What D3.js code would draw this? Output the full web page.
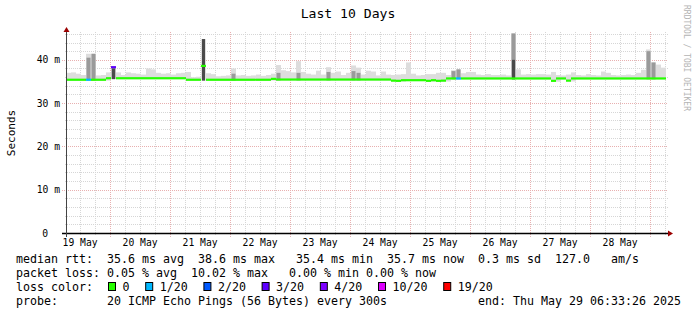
<!DOCTYPE html>
<html>
<head>
<meta charset="utf-8">
<script src="https://cdn.jsdelivr.net/npm/d3@7"></script>
<style>
  html, body { margin: 0; padding: 0; background: #fff; }
  svg { display: block; }
  text { font-family: "DejaVu Sans Mono", monospace; fill: #000; }
</style>
</head>
<body>
<svg id="chart"></svg>
<script>
// smokeping graph, 10 days, one bin = 2 hours (120 bins)
const startTime = new Date(Date.UTC(2025, 4, 19, 6, 33, 26));
const endTime = new Date(Date.UTC(2025, 4, 29, 6, 33, 26));
const binHours = 2;

// median rtt per bin (ms)
const median = [
  35.4, 35.4, 35.4, 35.4, 35.4, 35.4, 35.4, 35.4, 35.75, 38.3,
  35.75, 35.75, 35.75, 35.75, 35.75, 35.75, 35.75, 35.75, 35.75, 35.75,
  35.75, 35.75, 35.75, 35.75, 35.4, 35.4, 35.4, 38.6, 35.4, 35.4,
  35.4, 35.4, 35.4, 35.4, 35.4, 35.4, 35.4, 35.4, 35.4, 35.4,
  35.4, 35.6, 35.45, 35.45, 35.45, 35.45, 35.45, 35.45, 35.45, 35.45,
  35.45, 35.45, 35.45, 35.45, 35.45, 35.45, 35.45, 35.45, 35.45, 35.45,
  35.45, 35.45, 35.45, 35.45, 35.45, 35.2, 35.15, 35.3, 35.3, 35.3,
  35.3, 35.3, 35.15, 35.3, 35.15, 35.2, 35.7, 35.7, 35.7, 35.7,
  35.7, 35.7, 35.7, 35.7, 35.7, 35.7, 35.7, 35.7, 35.7, 35.7,
  35.7, 35.7, 35.7, 35.7, 35.7, 35.7, 35.7, 35.15, 35.7, 35.7,
  35.2, 35.7, 35.7, 35.7, 35.7, 35.7, 35.7, 35.7, 35.7, 35.7,
  35.7, 35.7, 35.7, 35.7, 35.7, 35.7, 35.7, 35.7, 35.7, 35.7
];

// highest ping per bin (ms), the light smoke
const smokeHi = [
  37.0, 37.1, 36.8, 36.5, 41.4, 41.4, 36.4, 36.5, 37.1, 38.4,
  37.1, 36.5, 37.1, 36.9, 36.8, 36.6, 38.0, 37.8, 37.0, 36.8,
  36.9, 36.6, 36.9, 37.0, 37.2, 36.0, 36.1, 44.8, 36.9, 36.7,
  36.2, 36.3, 36.4, 38.0, 36.4, 36.5, 36.3, 36.4, 36.6, 36.3,
  36.5, 36.8, 38.8, 37.6, 37.4, 37.1, 39.7, 37.2, 36.8, 36.6,
  37.5, 36.6, 38.3, 37.0, 37.3, 36.5, 37.0, 38.7, 38.2, 36.6,
  37.5, 37.3, 36.4, 37.3, 36.6, 36.5, 36.6, 36.7, 39.4, 36.8,
  36.4, 36.5, 36.7, 36.7, 37.0, 37.0, 36.5, 37.6, 37.8, 36.9,
  37.2, 37.2, 36.6, 36.5, 36.7, 36.5, 36.5, 36.6, 36.4, 46.1,
  37.8, 36.6, 36.7, 36.6, 36.7, 36.7, 36.6, 37.2, 36.5, 36.4,
  36.6, 37.1, 36.5, 36.4, 36.7, 36.5, 36.4, 37.3, 37.0, 36.5,
  36.4, 36.5, 36.6, 36.5, 37.0, 37.7, 42.4, 39.4, 38.9, 38.2
];

// denser smoke (mid gray), only where visible
const midBins = [4, 5, 9, 33, 42, 46, 52, 57, 58, 77, 78, 89, 116, 117];
const midTop = [40.5, 41.4, 38.4, 36.8, 37.0, 37.0, 37.2, 37.4, 37.0, 37.4, 37.8, 46.1, 42.0, 39.4];

// darkest smoke (spikes)
const darkBins = [9, 27, 89];
const darkTop = [38.0, 44.8, 40.0];

// packet loss (out of 20) where not zero
const lossBins = [4, 9, 78];
const lossCount = [1, 3, 1];

const lossLevels = [0, 1, 2, 3, 4, 10, 19];
const lossLabels = ["0", "1/20", "2/20", "3/20", "4/20", "10/20", "19/20"];
const lossColors = ["#26ff00", "#00b8ff", "#0059ff", "#5e00ff", "#7e00ff", "#dd00ff", "#ff0000"];

const yTicks = [0, 10, 20, 30, 40];
const yTickLabels = ["0", "10 m", "20 m", "30 m", "40 m"];
const dayLabels = ["19 May", "20 May", "21 May", "22 May", "23 May",
                   "24 May", "25 May", "26 May", "27 May", "28 May"];

const legendRows = [
  "median rtt:  35.6 ms avg  38.6 ms max   35.4 ms min  35.7 ms now  0.3 ms sd  127.0   am/s",
  "packet loss: 0.05 % avg  10.02 % max   0.00 % min 0.00 % now",
  "loss color:",
  "probe:       20 ICMP Echo Pings (56 Bytes) every 300s"
];
const endLabel = "end: Thu May 29 06:33:26 2025";

const chartWidth = 697;
const chartHeight = 315;
const plotLeft = 66, plotRight = 666, plotTop = 33, plotBottom = 233;
const yMax = 46.2;

const svg = d3.select("#chart")
  .attr("width", chartWidth)
  .attr("height", chartHeight);

svg.append("rect").attr("width", chartWidth).attr("height", chartHeight).attr("fill", "#fff");

const x = d3.scaleUtc().domain([startTime, endTime]).range([plotLeft, plotRight]);
const y = d3.scaleLinear().domain([0, yMax]).range([plotBottom, plotTop]);

function binStart(i) { return d3.utcHour.offset(startTime, i * binHours); }
function crisp(v) { return Math.round(v) + 0.5; }

// ---- grid ----
const grid = svg.append("g");
const minorColor = "#d6d6d6", majorColor = "#e8b0b0";

const sixHours = d3.utcHour.every(6).range(startTime, endTime);
grid.selectAll(".vminor")
  .data(sixHours.filter(function(d) { return d.getUTCHours() !== 0; }))
  .enter().append("line")
  .attr("x1", function(d) { return crisp(x(d)); })
  .attr("x2", function(d) { return crisp(x(d)); })
  .attr("y1", plotTop - 1).attr("y2", plotBottom + 3)
  .attr("stroke", minorColor).attr("stroke-dasharray", "1,1");

grid.selectAll(".vmajor")
  .data(d3.utcDay.range(startTime, endTime))
  .enter().append("line")
  .attr("x1", function(d) { return crisp(x(d)); })
  .attr("x2", function(d) { return crisp(x(d)); })
  .attr("y1", plotTop - 1).attr("y2", plotBottom + 4)
  .attr("stroke", majorColor).attr("stroke-dasharray", "1,1");

const minorY = d3.range(2, yMax, 2).filter(function(v) { return v % 10 !== 0; });
grid.selectAll(".hminor")
  .data(minorY)
  .enter().append("line")
  .attr("x1", plotLeft - 1).attr("x2", plotRight + 2)
  .attr("y1", function(d) { return crisp(y(d)); })
  .attr("y2", function(d) { return crisp(y(d)); })
  .attr("stroke", minorColor).attr("stroke-dasharray", "1,1");

grid.selectAll(".hmajor")
  .data(yTicks.slice(1))
  .enter().append("line")
  .attr("x1", plotLeft - 4).attr("x2", plotRight + 2)
  .attr("y1", function(d) { return crisp(y(d)); })
  .attr("y2", function(d) { return crisp(y(d)); })
  .attr("stroke", majorColor).attr("stroke-dasharray", "1,1");

// ---- smoke ----
function smokeBottom(i) {
  var prev = i > 0 ? median[i - 1] : median[i];
  return Math.min(median[i], prev) - 0.2;
}
function binX(i) { return x(binStart(i)); }
function binW(i) { return x(binStart(i + 1)) - x(binStart(i)); }

const smoke = svg.append("g");
smoke.selectAll(".light")
  .data(smokeHi)
  .enter().append("rect")
  .attr("x", function(d, i) { return binX(i); })
  .attr("width", function(d, i) { return binW(i); })
  .attr("y", function(d) { return y(d); })
  .attr("height", function(d, i) { return y(smokeBottom(i)) - y(d); })
  .attr("fill", "#dddddd");

smoke.selectAll(".mid")
  .data(midBins)
  .enter().append("rect")
  .attr("x", function(b) { return binX(b) + 0.5; })
  .attr("width", function(b) { return binW(b) - 1; })
  .attr("y", function(b, k) { return y(midTop[k]); })
  .attr("height", function(b, k) { return y(smokeBottom(b)) - y(midTop[k]); })
  .attr("fill", "#9a9a9a");

smoke.selectAll(".dark")
  .data(darkBins)
  .enter().append("rect")
  .attr("x", function(b) { return binX(b) + 1; })
  .attr("width", function(b) { return binW(b) - 2; })
  .attr("y", function(b, k) { return y(darkTop[k]); })
  .attr("height", function(b, k) { return y(smokeBottom(b)) - y(darkTop[k]); })
  .attr("fill", "#4a4a4a");

// ---- median line, coloured by loss ----
function lossColor(i) {
  var k = lossBins.indexOf(i);
  var c = k < 0 ? 0 : lossCount[k];
  var idx = 0;
  for (var j = 0; j < lossLevels.length; j++) if (c >= lossLevels[j]) idx = j;
  return lossColors[idx];
}

svg.append("g").selectAll("line")
  .data(median)
  .enter().append("line")
  .attr("x1", function(d, i) { return binX(i); })
  .attr("x2", function(d, i) { return binX(i + 1); })
  .attr("y1", function(d) { return y(d); })
  .attr("y2", function(d) { return y(d); })
  .attr("stroke", function(d, i) { return lossColor(i); })
  .attr("stroke-width", 2.2);

// ---- axes ----
const noonTicks = dayLabels.map(function(l, i) { return new Date(Date.UTC(2025, 4, 19 + i, 12)); });
const xAxis = d3.axisBottom(x)
  .tickValues(noonTicks)
  .tickFormat(function(d, i) { return dayLabels[i]; })
  .tickSize(0).tickPadding(6);
const gx = svg.append("g")
  .attr("transform", "translate(0," + plotBottom + ")")
  .call(xAxis);
gx.select(".domain").remove();
gx.selectAll("text").style("font-size", "9.7px").attr("fill", "#000");

const yAxis = d3.axisLeft(y)
  .tickValues(yTicks)
  .tickFormat(function(d, i) { return yTickLabels[i]; })
  .tickSize(0).tickPadding(6);
const gy = svg.append("g")
  .attr("transform", "translate(" + plotLeft + ",0)")
  .call(yAxis);
gy.select(".domain").remove();
gy.selectAll("text")
  .style("font-size", "9.7px").attr("fill", "#000")
  .attr("dx", function(d) { return d === 0 ? -12 : 0; });

// axis lines + arrows
svg.append("line")
  .attr("x1", plotLeft - 4).attr("x2", plotRight + 3)
  .attr("y1", plotBottom + 0.5).attr("y2", plotBottom + 0.5)
  .attr("stroke", "#000").attr("stroke-width", 1.3);
svg.append("line")
  .attr("x1", plotLeft + 0.5).attr("x2", plotLeft + 0.5)
  .attr("y1", plotBottom + 4).attr("y2", plotTop - 3)
  .attr("stroke", "#444").attr("stroke-width", 1);
svg.append("path")
  .attr("d", "M" + (plotLeft - 2.5) + "," + (plotTop - 1) + "L" + (plotLeft + 3.5) + "," + (plotTop - 1) +
             "L" + (plotLeft + 0.5) + "," + (plotTop - 6) + "Z")
  .attr("fill", "#9b0000");
svg.append("path")
  .attr("d", "M" + (plotRight + 2) + "," + (plotBottom - 2.5) + "L" + (plotRight + 2) + "," + (plotBottom + 3.5) +
             "L" + (plotRight + 7) + "," + (plotBottom + 0.5) + "Z")
  .attr("fill", "#9b0000");

// ---- titles ----
svg.append("text")
  .attr("x", 348).attr("y", 18)
  .attr("text-anchor", "middle")
  .style("font-size", "13.1px")
  .text("Last 10 Days");

svg.append("text")
  .attr("transform", "translate(15," + ((plotTop + plotBottom) / 2) + ") rotate(-90)")
  .attr("text-anchor", "middle")
  .style("font-size", "11px")
  .text("Seconds");

svg.append("text")
  .attr("transform", "translate(684,5) rotate(90)")
  .style("font-size", "8px")
  .style("fill", "#b4b4b4")
  .text("RRDTOOL / TOBI OETIKER");

// ---- legend ----
const legendFont = 11.63;
const charW = legendFont * 0.602;
const legendX = 16;
const rowY = [263, 277, 291, 305];

legendRows.forEach(function(row, i) {
  svg.append("text")
    .attr("x", legendX).attr("y", rowY[i])
    .attr("xml:space", "preserve")
    .style("white-space", "pre")
    .style("font-size", legendFont + "px")
    .text(row);
});

svg.append("text")
  .attr("x", 681).attr("y", rowY[3])
  .attr("text-anchor", "end")
  .style("font-size", legendFont + "px")
  .text(endLabel);

var bx = 108;
lossLabels.forEach(function(lab, i) {
  svg.append("rect")
    .attr("x", bx + 0.5).attr("y", rowY[2] - 8.5)
    .attr("width", 7).attr("height", 8)
    .attr("fill", lossColors[i]).attr("stroke", "#000").attr("stroke-width", 1);
  svg.append("text")
    .attr("x", bx + 14.5).attr("y", rowY[2])
    .style("font-size", legendFont + "px")
    .text(lab);
  bx = bx + 14.5 + lab.length * charW + 15.7;
});
</script>
</body>
</html>
